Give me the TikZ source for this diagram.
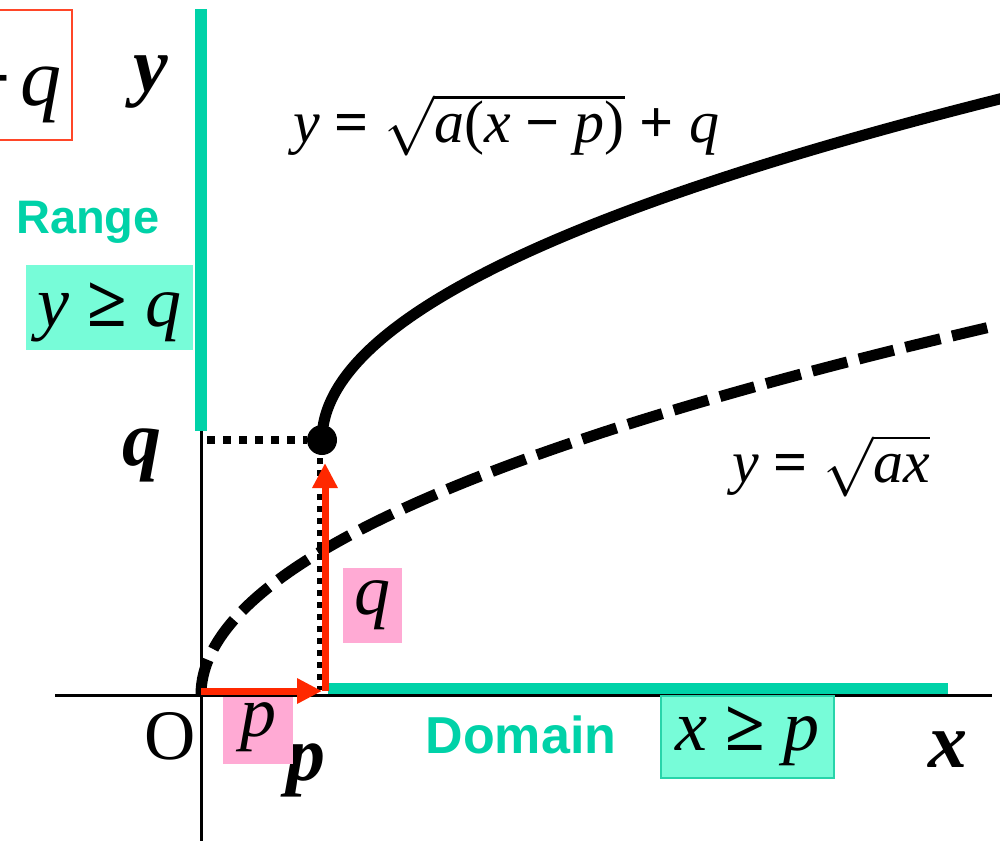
\RequirePackage{fix-cm}
\documentclass[tikz,border=0pt]{standalone}
\usepackage{fontspec}
\setmainfont{Liberation Serif}
\newfontfamily\sansb{Liberation Sans}
\usetikzlibrary{arrows.meta}
\definecolor{tealline}{RGB}{0,210,168}
\definecolor{aquafill}{RGB}{119,252,216}
\definecolor{aquaedge}{RGB}{40,212,170}
\definecolor{pinkfill}{RGB}{255,170,212}
\definecolor{redarrow}{RGB}{255,40,0}
\definecolor{redframe}{RGB}{255,70,40}
\newcommand\fsz[1]{\fontsize{#1}{#1}\selectfont}
\newcommand\opr[1]{{\upshape\bfseries #1}}
\tikzset{
  eqlabel/.style={font=\fsz{60}, inner sep=0pt, anchor=base west},
  boldlabel/.style={font=\fsz{78}\bfseries\itshape, inner sep=0pt, anchor=base},
  sanslabel/.style={font=\sansb\bfseries\fsz{#1}, text=tealline, inner sep=0pt, anchor=base},
  aquabox/.style={fill=aquafill, font=\fsz{72}, inner sep=0pt},
  pinkbox/.style={fill=pinkfill, font=\fsz{72}, inner sep=0pt},
  thickcurve/.style={line width=11pt, black},
  dotted line/.style={line width=#1, dash pattern=on #1 off #1},
  redarr/.style={line width=7pt, redarrow, -{Triangle[length=25pt,width=24pt]}},
}
\begin{document}
\begin{tikzpicture}[x=1pt,y=-1pt]
\useasboundingbox (0,0) rectangle (1000,841);
\clip (0,0) rectangle (1000,841);

% axes
\coordinate (O) at (201,695);
\coordinate (xl) at (55,695);
\coordinate (xr) at (992,695);
\coordinate (yb) at (201,841);
\coordinate (yt) at (201,420);
\draw[line width=3pt] (xl) -- (xr);
\draw[line width=3pt] (yt) -- (yb);

% range / domain bars
\coordinate (r0) at (201,9);
\coordinate (r1) at (201,431);
\coordinate (d0) at (328,688.5);
\coordinate (d1) at (948,688.5);
\draw[tealline, line width=12pt] (r0) -- (r1);
\draw[tealline, line width=11pt] (d0) -- (d1);

% top-left framed (clipped) formula
\node[draw=redframe, line width=2pt, inner xsep=10pt, inner ysep=0pt,
      text height=95pt, text depth=35pt, font=\fsz{82}, anchor=north east]
      (eqbox) at (73,9) {\opr{+}\kern10pt\textit{q}};

% labels
\node[boldlabel] (ylab) at (151,91) {y};
\node[sanslabel=47] (range) at (88,233) {Range};
\node[aquabox, minimum width=167pt, text height=61pt, text depth=24pt]
      (ygeq) at (109.5,307.5) {\textit{y} \opr{≥} \textit{q}};
\node[boldlabel] (qlab) at (142,465) {q};
\node[font=\fsz{71}, inner sep=0pt, anchor=base] (olab) at (170,759) {O};
\node[boldlabel] (plab) at (306,780) {p};
\node[pinkbox, minimum width=70pt, text height=39pt, text depth=28pt, anchor=north west]
      (pbox) at (223,697) {\textit{p}};
\node[pinkbox, minimum width=59pt, text height=46pt, text depth=29pt, anchor=north west]
      (qbox) at (343,568) {\textit{q}};
\node[sanslabel=52] (domain) at (521,753) {Domain};
\node[aquabox, draw=aquaedge, line width=2pt, minimum width=173pt, text height=54pt, text depth=28pt, anchor=north west]
      (xgeq) at (660,695) {\textit{x} \opr{≥} \textit{p}};
\node[boldlabel] (xlab) at (948,767) {x};

\node[eqlabel] (eqmain) at (293,142)
  {\textit{y} \opr{=} $\sqrt{\hbox{\itshape a\upshape(\itshape x\upshape\ \opr{−}\ \itshape p\upshape)}}$ \opr{+} \textit{q}};
\node[eqlabel] (eqbase) at (732,482)
  {\textit{y} \opr{=} $\sqrt{\hbox{\itshape ax}}$};

% curves
\draw[thickcurve, dash pattern=on 36pt off 12pt]
  plot[domain=0:28.1, samples=120, variable=\t] ({201+\t*\t},{695-13.1*\t});
\draw[thickcurve]
  plot[domain=0:26.3, samples=120, variable=\t] ({322+\t*\t},{440-13.1*\t});

% vertex point and guides
\node[circle, fill=black, inner sep=0pt, minimum size=30pt] (dot) at (322,440) {};
\coordinate (yq) at (207,440);
\draw[dotted line=8pt] (yq) -- (dot);
\coordinate (vtop) at (320,458);
\coordinate (vbot) at (320,690);
\draw[dotted line=6pt] (vtop) -- (vbot);

% translation arrows
\coordinate (h0) at (201,691);
\coordinate (h1) at (322,691);
\coordinate (v0) at (325,691);
\coordinate (v1) at (325,463);
\draw[redarr] (h0) -- (h1);
\draw[redarr] (v0) -- (v1);
\end{tikzpicture}
\end{document}
